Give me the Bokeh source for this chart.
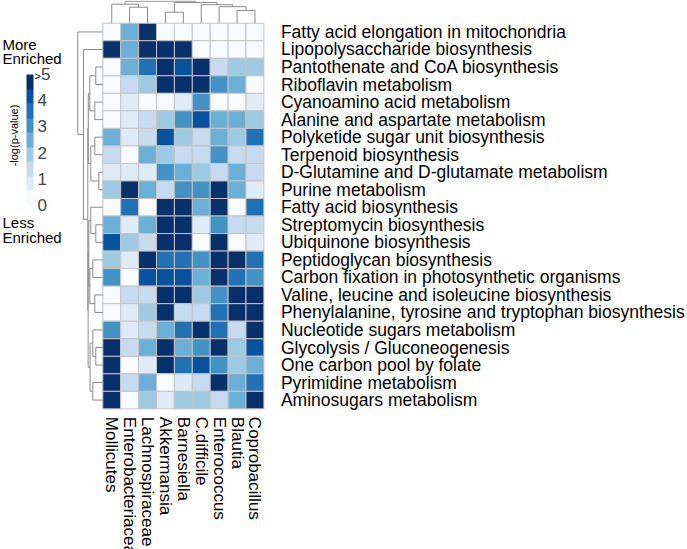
import math
from bokeh.plotting import figure
from bokeh.models import (ColumnDataSource, LinearColorMapper, ColorBar,
                          FixedTicker, Label, Range1d)
from bokeh.palettes import Blues9
from bokeh.transform import transform
from bokeh.embed import file_html
from bokeh.resources import INLINE
from bokeh.core.properties import value

# ---------------- data ----------------
pathways = [
    "Fatty acid elongation in mitochondria",
    "Lipopolysaccharide biosynthesis",
    "Pantothenate and CoA biosynthesis",
    "Riboflavin metabolism",
    "Cyanoamino acid metabolism",
    "Alanine and aspartate metabolism",
    "Polyketide sugar unit biosynthesis",
    "Terpenoid biosynthesis",
    "D-Glutamine and D-glutamate metabolism",
    "Purine metabolism",
    "Fatty acid biosynthesis",
    "Streptomycin biosynthesis",
    "Ubiquinone biosynthesis",
    "Peptidoglycan biosynthesis",
    "Carbon fixation in photosynthetic organisms",
    "Valine, leucine and isoleucine biosynthesis",
    "Phenylalanine, tyrosine and tryptophan biosynthesis",
    "Nucleotide sugars metabolism",
    "Glycolysis / Gluconeogenesis",
    "One carbon pool by folate",
    "Pyrimidine metabolism",
    "Aminosugars metabolism",
]

taxa = ["Mollicutes", "Enterobacteriaceae", "Lachnospiraceae", "Akkermansia",
        "Barnesiella", "C.difficile", "Enterococcus", "Blautia", "Coprobacillus"]

# -log(p-value) per taxon, rows in pathway order
mollicutes         = [0.2, 5, 0.2, 0.2, 0.2, 0.2, 2.6, 1.3, 0.8, 2, 0.2, 2.6, 4.4, 2, 3.2, 0.2, 0.2, 3.2, 5, 5, 5, 5]
enterobacteriaceae = [2.6, 2.6, 2.6, 1.3, 0.8, 0.8, 0.8, 0.2, 0.8, 5, 3.8, 0.8, 2, 0.8, 0.2, 1.3, 0.8, 0.8, 1.3, 0.2, 1.3, 0.2]
lachnospiraceae    = [5, 5, 3.8, 2, 0.2, 1.3, 1.3, 2.6, 0.8, 2.6, 0.2, 2.6, 1.3, 5, 4.4, 1.3, 2, 1.3, 2.6, 0.8, 2.6, 2]
akkermansia        = [0.2, 5, 5, 5, 0.2, 2, 4.4, 2, 3.2, 1.3, 5, 5, 5, 3.8, 4.4, 5, 5, 2.6, 5, 5, 0.2, 0.8]
barnesiella        = [0.2, 5, 4.4, 5, 0.8, 3.2, 2, 1.3, 2.6, 3.2, 5, 5, 5, 3.8, 4.4, 5, 1.3, 3.8, 2.6, 3.8, 0.8, 2]
c_difficile        = [0.2, 0.2, 5, 5, 3.2, 4.4, 1.3, 1.3, 2, 3.2, 2.6, 0.8, 0.2, 3.2, 2.6, 2, 1.3, 5, 3.2, 4.4, 1.3, 2]
enterococcus       = [0.2, 0.2, 1.3, 3.2, 0.2, 2.6, 2.6, 3.2, 1.3, 5, 5, 3.2, 5, 5, 5, 3.2, 3.8, 3.8, 5, 3.2, 5, 1.3]
blautia            = [0.2, 0.2, 2, 2.6, 0.2, 2.6, 2, 1.3, 2.6, 2.6, 0.2, 1.3, 0.2, 5, 3.8, 5, 5, 1.3, 2, 2, 2.6, 2.6]
coprobacillus      = [0.2, 0.2, 2, 0.2, 0.8, 2, 3.8, 1.3, 1.3, 0.8, 3.8, 1.3, 0.8, 3.8, 3.2, 5, 5, 5, 4.4, 2.6, 3.8, 5]

columns = [mollicutes, enterobacteriaceae, lachnospiraceae, akkermansia,
           barnesiella, c_difficile, enterococcus, blautia, coprobacillus]

# dendrogram merges: (node a, node b, height); new nodes numbered after leaves
row_merges = [
    (2, 3, 7), (4, 5, 8), (22, 23, 13), (6, 7, 8), (8, 9, 4), (25, 26, 12),
    (24, 27, 14.5), (11, 12, 7), (10, 29, 12), (13, 14, 10), (15, 16, 8),
    (31, 32, 13), (30, 33, 14), (18, 19, 7), (17, 35, 10), (20, 21, 10),
    (36, 37, 12.7), (34, 38, 14.7), (28, 39, 15), (1, 40, 19.3), (0, 41, 25),
]
col_merges = [
    (1, 2, 16), (0, 9, 19), (3, 4, 11), (7, 8, 12.7), (6, 12, 16.5),
    (5, 13, 18.5), (11, 14, 20.7), (10, 15, 22),
]

colorbar_ticks = [0, 1, 2, 3, 4, 5]

# ---------------- layout ----------------
W, H = 687, 549
cw, rh = 17.9, 17.53           # cell width / height in px
hm_left, hm_top = 102.3, 22.7  # heatmap position on canvas (px)
n_rows, n_cols = len(pathways), len(taxa)

x_start = -hm_left / cw
x_end = x_start + W / cw
y_end = n_rows + hm_top / rh
y_start = y_end - H / rh


def px_x(px):
    return x_start + px / cw


def px_y(py):
    return y_end - py / rh


p = figure(width=W, height=H, x_range=Range1d(x_start, x_end),
           y_range=Range1d(y_start, y_end), output_backend="svg",
           toolbar_location=None, x_axis_location=None, y_axis_location=None,
           min_border=0)
p.grid.visible = False
p.outline_line_color = None
p.background_fill_color = "white"
p.border_fill_color = "white"

FONT = "Liberation Sans"

mapper = LinearColorMapper(palette=list(Blues9[::-1]), low=0, high=5)

xs, ys, vals = [], [], []
for i, col in enumerate(columns):
    for j, v in enumerate(col):
        xs.append(i + 0.5)
        ys.append(n_rows - 1 - j + 0.5)
        vals.append(v)
src = ColumnDataSource(dict(x=xs, y=ys, v=vals))
p.rect(x="x", y="y", width=1, height=1, source=src,
       fill_color=transform("v", mapper), line_color="#c4c4c4", line_width=1)


def dendro(merges, leaf_pos):
    n = len(leaf_pos)
    pos = {i: leaf_pos[i] for i in range(n)}
    hgt = {i: 0.0 for i in range(n)}
    segs = []
    for k, (a, b, h) in enumerate(merges):
        segs.append(([pos[a], pos[a], pos[b], pos[b]], [hgt[a], h, h, hgt[b]]))
        pos[n + k] = (pos[a] + pos[b]) / 2
        hgt[n + k] = h
    return segs


# left (row) dendrogram
row_centers = [n_rows - 1 - j + 0.5 for j in range(n_rows)]
rs = dendro(row_merges, row_centers)
row_scale = 1.0 / cw  # 1 height unit = 1 px
p.multi_line(xs=[[-h * row_scale for h in s[1]] for s in rs],
             ys=[s[0] for s in rs], line_color="#8a8a8a", line_width=1)

# top (column) dendrogram
col_centers = [i + 0.5 for i in range(n_cols)]
cs = dendro(col_merges, col_centers)
col_scale = 1.0 / rh
p.multi_line(xs=[s[0] for s in cs],
             ys=[[n_rows + h * col_scale for h in s[1]] for s in cs],
             line_color="#8a8a8a", line_width=1)

# row labels (right)
p.text(x=[n_cols + 17 / cw] * n_rows, y=row_centers, text=pathways,
       text_font=value(FONT), text_font_size="17.5px", text_color="black",
       text_align="left", text_baseline="middle")

# column labels (bottom, rotated)
p.text(x=col_centers, y=[-8 / rh] * n_cols, text=taxa, angle=-math.pi / 2,
       text_font=value(FONT), text_font_size="17px", text_color="black",
       text_align="left", text_baseline="middle")

# colour bar
cb = ColorBar(color_mapper=mapper, location=(26, H - 205), width=7, height=131,
              padding=0, ticker=FixedTicker(ticks=colorbar_ticks),
              major_label_overrides={5: "\u20095"},
              major_label_text_font=FONT, major_label_text_font_size="17px",
              label_standoff=4, major_tick_line_color=None,
              minor_tick_line_color=None, bar_line_color=None,
              border_line_color=None, background_fill_alpha=0)
p.add_layout(cb)

labels = [
    (">", 34, 75, 0, "left", "middle", "11px"),
    ("More", 2, 44, 0, "left", "alphabetic", "15px"),
    ("Enriched", 2, 58, 0, "left", "alphabetic", "15px"),
    ("Less", 2, 222, 0, "left", "alphabetic", "15px"),
    ("Enriched", 2, 237, 0, "left", "alphabetic", "15px"),
    ("-log(p-value)", 13, 135, math.pi / 2, "center", "middle", "11px"),
]
for t, lx, ly, ang, al, bl, fs in labels:
    p.add_layout(Label(x=px_x(lx), y=px_y(ly), text=t, angle=ang,
                       text_align=al, text_baseline=bl, text_font=FONT,
                       text_font_size=fs, text_color="black"))

open("out.html", "w").write(file_html(p, INLINE))
